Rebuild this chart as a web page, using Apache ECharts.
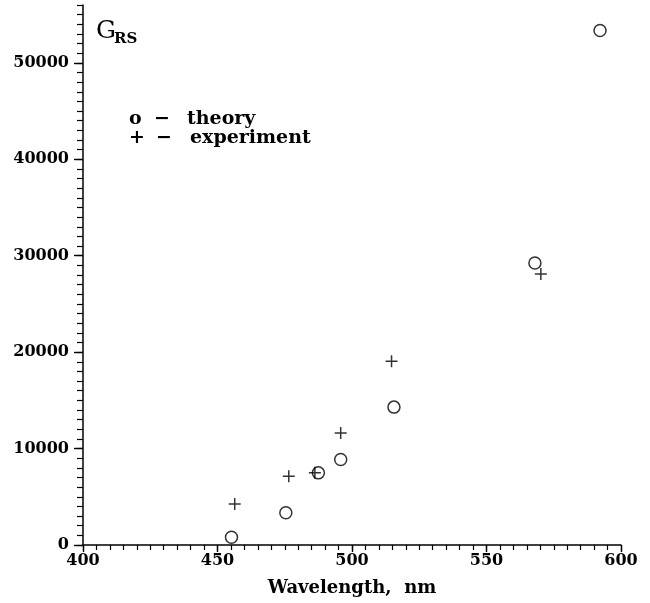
<!DOCTYPE html>
<html>
<head>
<meta charset="utf-8">
<script src="https://cdn.jsdelivr.net/npm/echarts@6/dist/echarts.min.js"></script>
<style>
  html, body { margin: 0; padding: 0; background: #fff; }
  #chart { width: 650px; height: 603px; }
</style>
</head>
<body>
<div id="chart"></div>
<script>
// Raman gain G_RS versus excitation wavelength
const theoryWavelength = [455.2, 475.4, 487.5, 495.8, 515.6, 568.0, 592.2];
const theoryGain = [800, 3340, 7480, 8860, 14300, 29240, 53360];
const experimentWavelength = [456.4, 476.5, 486.2, 495.8, 514.7, 570.2];
const experimentGain = [4240, 7140, 7480, 11610, 19060, 28100];

const xMajorTicks = [400, 450, 500, 550, 600];
const yMajorTicks = [0, 10000, 20000, 30000, 40000, 50000];

const xAxisTitle = 'Wavelength,  nm';
const yAxisTitle = ['G', 'RS'];
const legendTheory = ['o', '\u2212', 'theory'];
const legendExperiment = ['+', '\u2212', 'experiment'];

const SERIF = '"DejaVu Serif", serif';
const INK = '#000';

const chart = echarts.init(document.getElementById('chart'), null, { renderer: 'canvas' });

function pairs(xs, ys) { return xs.map((x, i) => [x, ys[i]]); }

const baseAxis = {
  type: 'value',
  splitLine: { show: false },
  axisLine: { show: true, onZero: false, lineStyle: { color: INK, width: 1.5 } }
};

const plainNumber = v => String(v);
const legendText = (x, y, s) => ({
  type: 'text', left: x, top: y,
  style: { text: s, fontFamily: SERIF, fontWeight: 'bold', fontSize: 19, fill: INK }
});

chart.setOption({
  animation: false,
  backgroundColor: '#fff',
  grid: { left: 83, right: 29, top: 5, bottom: 58 },
  xAxis: [
    Object.assign({}, baseAxis, {
      min: 400, max: 600, interval: 5, position: 'bottom',
      axisTick: { show: true, length: 5, lineStyle: { color: INK, width: 1.2 } },
      axisLabel: { show: false }
    }),
    Object.assign({}, baseAxis, {
      min: 400, max: 600, interval: 50, position: 'bottom',
      axisLine: { show: false },
      axisTick: { show: true, length: 7, customValues: xMajorTicks, lineStyle: { color: INK, width: 1.4 } },
      axisLabel: {
        show: true, customValues: xMajorTicks, margin: 8, formatter: plainNumber,
        fontFamily: SERIF, fontWeight: 'bold', fontSize: 16, color: INK
      },
      name: xAxisTitle, nameLocation: 'middle', nameGap: 34,
      nameTextStyle: { fontFamily: SERIF, fontWeight: 'bold', fontSize: 18, color: INK }
    })
  ],
  yAxis: [
    Object.assign({}, baseAxis, {
      min: 0, max: 56000, interval: 1000, position: 'left',
      axisTick: { show: true, length: 6, lineStyle: { color: INK, width: 1.2 } },
      axisLabel: { show: false }
    }),
    Object.assign({}, baseAxis, {
      min: 0, max: 56000, interval: 10000, position: 'left',
      axisLine: { show: false },
      axisTick: { show: true, length: 9, customValues: yMajorTicks, lineStyle: { color: INK, width: 1.4 } },
      axisLabel: {
        show: true, customValues: yMajorTicks, margin: 14, formatter: plainNumber,
        fontFamily: SERIF, fontWeight: 'bold', fontSize: 16, color: INK
      }
    })
  ],
  series: [
    {
      name: 'theory', type: 'scatter', xAxisIndex: 0, yAxisIndex: 0,
      data: pairs(theoryWavelength, theoryGain),
      symbol: 'circle', symbolSize: 12,
      itemStyle: { color: 'rgba(0,0,0,0)', borderColor: INK, borderWidth: 1.5 },
      emphasis: { disabled: true }
    },
    {
      name: 'experiment', type: 'scatter', xAxisIndex: 0, yAxisIndex: 0,
      data: pairs(experimentWavelength, experimentGain),
      symbol: 'path://M0,-6L0,6M-6,0L6,0', symbolSize: 12,
      itemStyle: { color: 'rgba(0,0,0,0)', borderColor: INK, borderWidth: 1.5 },
      emphasis: { disabled: true }
    }
  ],
  graphic: [
    { type: 'text', left: 96, top: 19, style: { text: yAxisTitle[0], fontFamily: SERIF, fontSize: 25, fill: INK } },
    { type: 'text', left: 114, top: 32, style: { text: yAxisTitle[1], fontFamily: SERIF, fontWeight: 'bold', fontSize: 15, fill: INK } },
    legendText(129, 110, legendTheory[0]),
    legendText(154, 110, legendTheory[1]),
    legendText(187, 110, legendTheory[2]),
    legendText(129, 129, legendExperiment[0]),
    legendText(156, 129, legendExperiment[1]),
    legendText(190, 129, legendExperiment[2])
  ]
});
</script>
</body>
</html>
